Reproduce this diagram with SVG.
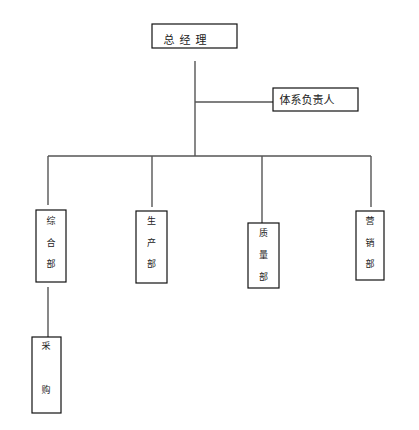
<svg xmlns="http://www.w3.org/2000/svg" width="419" height="430" viewBox="0 0 419 430">
<style>
.box{fill:#fff;stroke:#111;stroke-width:1.2}
.ln{stroke:#555;stroke-width:1.4;fill:none}
.t{font-family:"Liberation Sans","Noto Sans CJK SC",sans-serif;fill:#222;text-anchor:middle;dominant-baseline:central}
.s{font-size:9px}
.m{font-size:11px}
</style>
<rect width="419" height="430" fill="#fff"/>
<g id="connectors">
<line class="ln" x1="195" y1="61" x2="195" y2="156"/>
<line class="ln" x1="195" y1="102" x2="273" y2="102"/>
<line class="ln" x1="48" y1="156" x2="371" y2="156"/>
<line class="ln" x1="48" y1="156" x2="48" y2="205"/>
<line class="ln" x1="152" y1="156" x2="152" y2="207"/>
<line class="ln" x1="262" y1="156" x2="262" y2="223"/>
<line class="ln" x1="371" y1="156" x2="371" y2="207"/>
<line class="ln" x1="48" y1="287" x2="48" y2="337"/>
</g>
<g id="gm">
<rect class="box" x="152" y="24" width="85" height="24"/>
<text class="t m" x="169" y="40">总</text>
<text class="t m" x="185" y="40">经</text>
<text class="t m" x="201" y="40">理</text>
</g>
<g id="txfzr">
<rect class="box" x="273" y="88" width="85" height="23"/>
<text class="t m" x="307" y="100">体系负责人</text>
</g>
<g id="zhb">
<rect class="box" x="36" y="210" width="30" height="72"/>
<text class="t s" x="51" y="221">综</text>
<text class="t s" x="51" y="243">合</text>
<text class="t s" x="51" y="264">部</text>
</g>
<g id="scb">
<rect class="box" x="136" y="211" width="31" height="72"/>
<text class="t s" x="151.5" y="221">生</text>
<text class="t s" x="151.5" y="243">产</text>
<text class="t s" x="151.5" y="264">部</text>
</g>
<g id="zlb">
<rect class="box" x="248" y="223" width="31" height="65"/>
<text class="t s" x="263.5" y="233">质</text>
<text class="t s" x="263.5" y="255">量</text>
<text class="t s" x="263.5" y="277">部</text>
</g>
<g id="yxb">
<rect class="box" x="356" y="211" width="28" height="69"/>
<text class="t s" x="370" y="221">营</text>
<text class="t s" x="370" y="243">销</text>
<text class="t s" x="370" y="264">部</text>
</g>
<g id="cg">
<rect class="box" x="32" y="337" width="29" height="76"/>
<text class="t s" x="46" y="346">采</text>
<text class="t s" x="46" y="390">购</text>
</g>
</svg>
